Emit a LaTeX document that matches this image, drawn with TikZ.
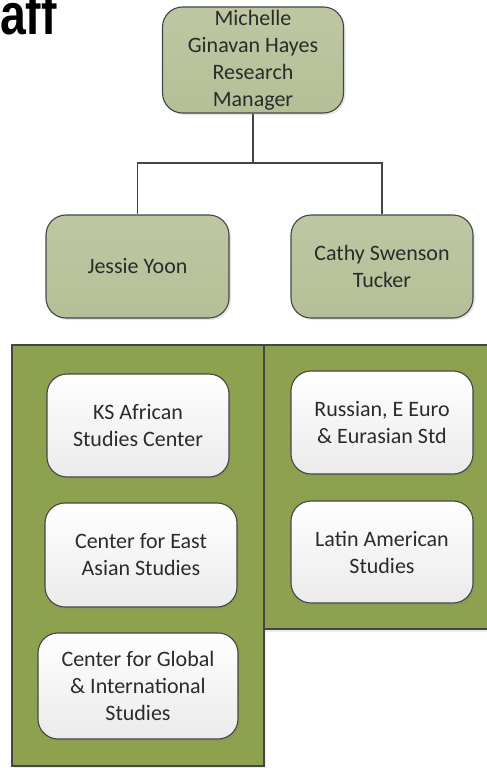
\documentclass[tikz,border=0pt]{standalone}
\usepackage{fontspec}
\setmainfont{Carlito}
\newfontfamily\titlefont[FakeStretch=0.8]{Liberation Sans}
\usetikzlibrary{shadows}

\definecolor{olivebox}{HTML}{B5BF97}
\definecolor{olivetop}{HTML}{BDC7A2}
\definecolor{panelgreen}{HTML}{8DA14F}
\definecolor{edgegray}{HTML}{454545}
\definecolor{textgray}{HTML}{2B2B2B}

\tikzset{
  person/.style={draw=edgegray, line width=1.1pt, rounded corners=20pt,
    top color=olivetop, bottom color=olivebox, align=center,
    font=\fontsize{22}{27}\selectfont, text=textgray, inner sep=0pt,
    drop shadow={opacity=0.2, shadow xshift=2pt, shadow yshift=-2pt}},
  center/.style={draw=edgegray, line width=1.1pt, rounded corners=20pt,
    top color=white, bottom color=black!8, align=center,
    font=\fontsize{22}{27}\selectfont, text=textgray, inner sep=0pt,
    drop shadow={opacity=0.2, shadow xshift=2pt, shadow yshift=-2pt}},
  panel/.style={draw=edgegray, line width=1.1pt, fill=panelgreen,
    drop shadow={opacity=0.15, shadow xshift=2pt, shadow yshift=-3pt}},
  wire/.style={draw=edgegray, line width=1.6pt}
}

\begin{document}
\begin{tikzpicture}[x=1pt, y=-1pt]
  \useasboundingbox (0,0) rectangle (487,768);

  \node[anchor=base west, inner sep=0pt, font=\titlefont\bfseries\fontsize{58}{58}\selectfont] (title) at (0,35) {aff};

  \node[person, minimum width=181pt, minimum height=106pt] (mgr) at (253,60)
    {Michelle\\Ginavan Hayes\\Research\\Manager};
  \node[person, minimum width=183pt, minimum height=103pt] (jessie) at (137.5,266.5) {Jessie Yoon};
  \node[person, minimum width=182pt, minimum height=103pt] (cathy) at (382,266.5) {Cathy Swenson\\Tucker};

  \coordinate (split) at (253,163);
  \draw[wire] (mgr) -- (split);
  \draw[wire] (split) -| (jessie.north);
  \draw[wire] (split) -| (cathy.north);

  \draw[panel] (12,345) rectangle (264,766);
  \draw[panel] (264,345) rectangle (500,629);

  \node[center, minimum width=182pt, minimum height=103pt] (ks) at (138,425.5) {KS African\\Studies Center};
  \node[center, minimum width=192pt, minimum height=104pt] (east) at (141,555) {Center for East\\Asian Studies};
  \node[center, minimum width=200pt, minimum height=106pt] (global) at (138,686)
    {Center for Global\\\& International\\Studies};
  \node[center, minimum width=182pt, minimum height=103pt] (russia) at (382,422.5) {Russian, E Euro\\\& Eurasian Std};
  \node[center, minimum width=182pt, minimum height=102pt] (latin) at (382,552) {Latin American\\Studies};
\end{tikzpicture}
\end{document}
